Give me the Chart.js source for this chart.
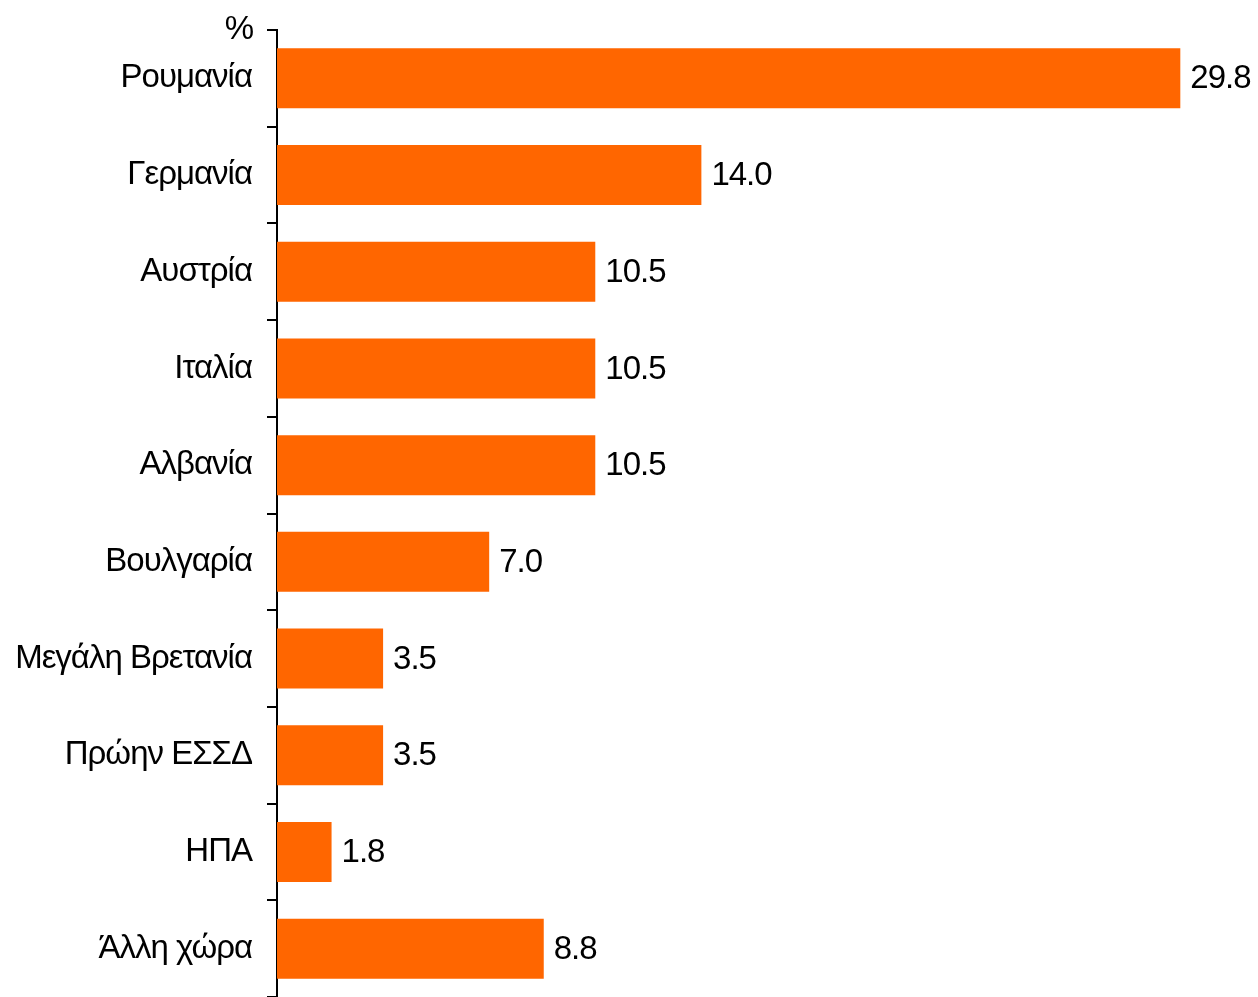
<!DOCTYPE html>
<html lang="el">
<head>
    <meta charset="UTF-8">
    <title>Χώρες</title>
    <script src="https://cdn.jsdelivr.net/npm/chart.js@4.4.0/dist/chart.umd.min.js"></script>
    <style>
        body {
            margin: 0;
            background: #ffffff;
        }
        .chart-box {
            position: relative;
            width: 1258px;
            height: 997px;
        }
    </style>
</head>
<body>
    <div class="chart-box">
        <canvas id="barChart"></canvas>
    </div>

    <script>
        const countries = ['Ρουμανία', 'Γερμανία', 'Αυστρία', 'Ιταλία', 'Αλβανία', 'Βουλγαρία', 'Μεγάλη Βρετανία', 'Πρώην ΕΣΣΔ', 'ΗΠΑ', 'Άλλη χώρα'];
        const shares = [29.8, 14.0, 10.5, 10.5, 10.5, 7.0, 3.5, 3.5, 1.8, 8.8];
        const unitLabel = '%';

        const fontFamily = '"Liberation Sans", Arial, sans-serif';
        const fontSize = 33;
        const tight = '-1px';

        // tighter letter spacing like the original
        const spacingPlugin = {
            id: 'spacing',
            beforeUpdate(chart) { chart.ctx.letterSpacing = tight; },
            beforeDraw(chart) { chart.ctx.letterSpacing = tight; }
        };

        // value labels at bar ends + "%" above the axis
        const labelPlugin = {
            id: 'valueLabels',
            afterDatasetsDraw(chart) {
                const ctx = chart.ctx;
                ctx.save();
                ctx.letterSpacing = tight;
                ctx.font = fontSize + 'px ' + fontFamily;
                ctx.fillStyle = '#000';
                ctx.textBaseline = 'middle';
                ctx.textAlign = 'left';
                chart.getDatasetMeta(0).data.forEach((bar, i) => {
                    ctx.fillText(shares[i].toFixed(1), bar.x + 10, bar.y + 1);
                });
                ctx.textAlign = 'right';
                ctx.fillText(unitLabel, 253, chart.chartArea.top);
                ctx.restore();
            }
        };

        new Chart(document.getElementById('barChart'), {
            type: 'bar',
            data: {
                labels: countries,
                datasets: [{
                    data: shares,
                    backgroundColor: '#FF6600',
                    borderWidth: 0,
                    barPercentage: 0.62,
                    categoryPercentage: 1
                }]
            },
            options: {
                indexAxis: 'y',
                responsive: true,
                maintainAspectRatio: false,
                animation: false,
                layout: {
                    padding: { top: 30, right: 11, bottom: 0, left: 0 }
                },
                plugins: {
                    legend: { display: false },
                    tooltip: { enabled: false }
                },
                scales: {
                    x: {
                        display: false,
                        min: 0,
                        max: 32
                    },
                    y: {
                        afterFit(scale) {
                            scale.width = 277;
                            scale.paddingTop = 0;
                            scale.paddingBottom = 0;
                        },
                        border: { display: true, color: '#000', width: 2 },
                        grid: {
                            offset: true,
                            drawOnChartArea: false,
                            drawTicks: true,
                            tickLength: 10,
                            color: '#000',
                            lineWidth: 2
                        },
                        ticks: {
                            color: '#000',
                            padding: 15,
                            font: { family: fontFamily, size: fontSize }
                        }
                    }
                }
            },
            plugins: [spacingPlugin, labelPlugin]
        });
    </script>
</body>
</html>
